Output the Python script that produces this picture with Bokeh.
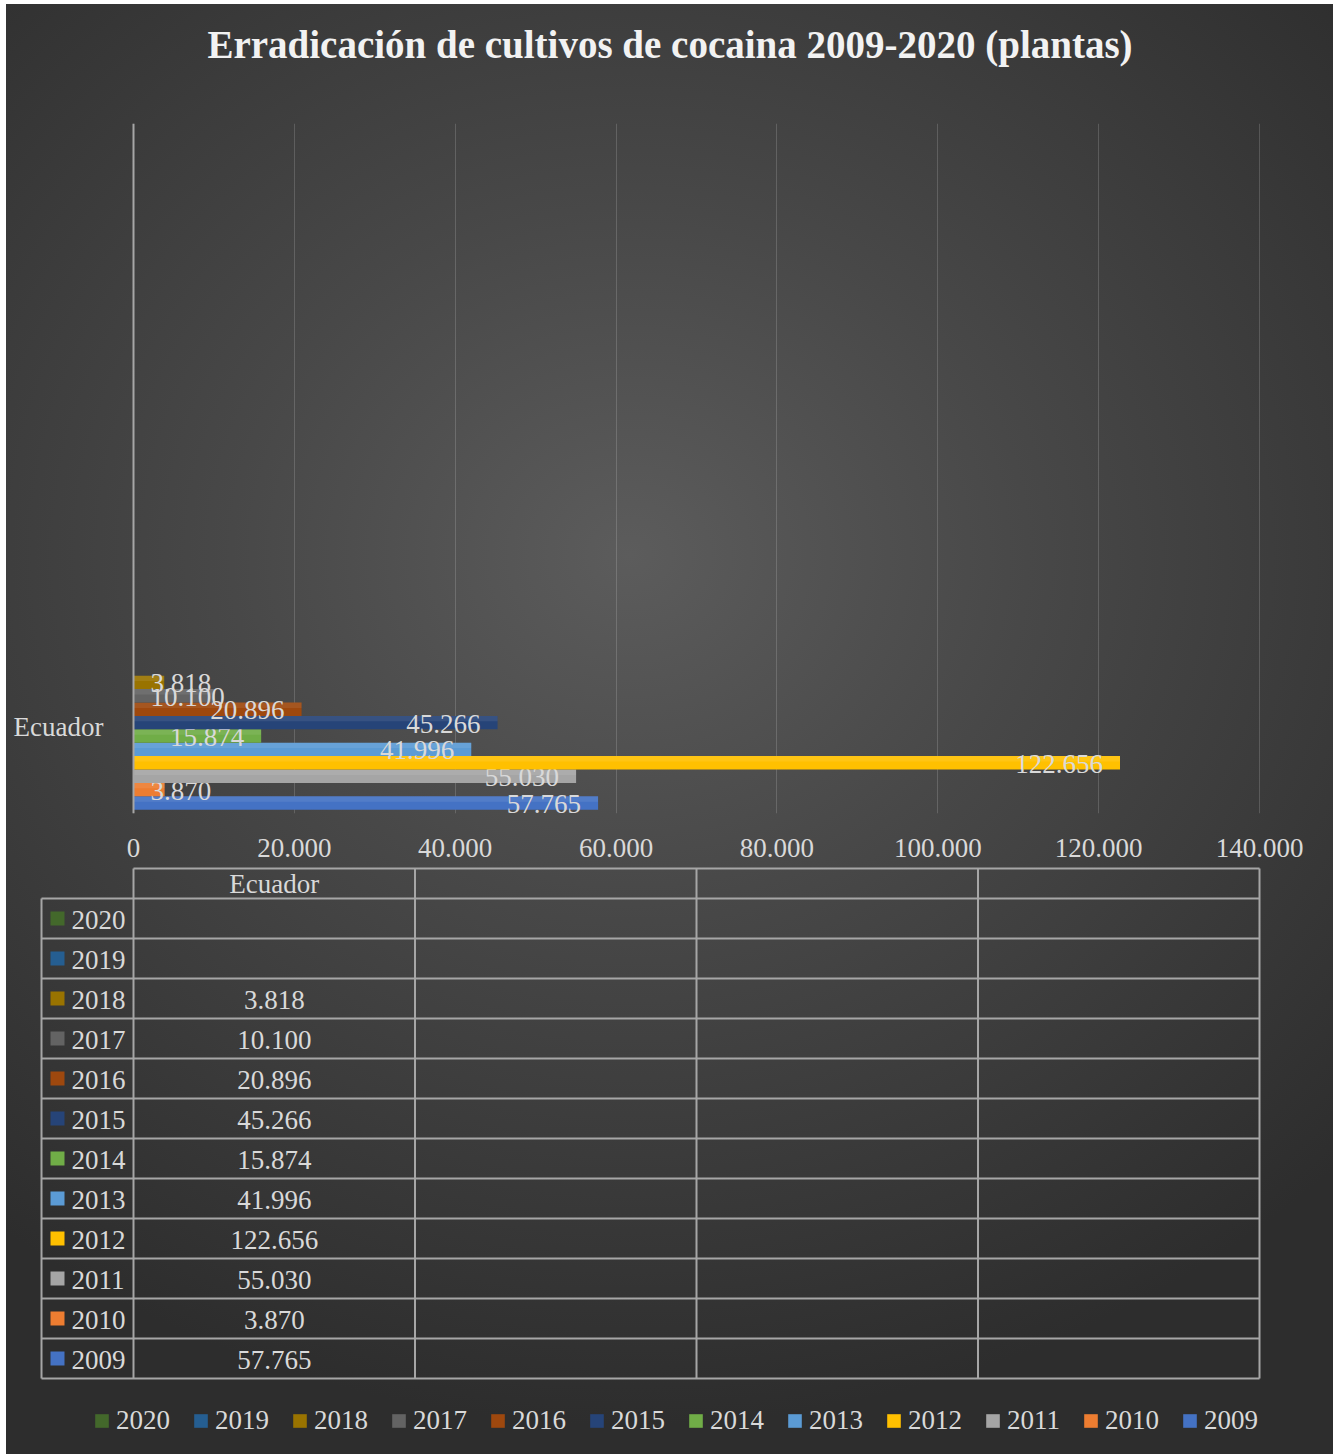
from bokeh.plotting import figure
from bokeh.models import Range1d, FactorRange, FixedTicker, Legend, LegendItem, ColumnDataSource, Title
from bokeh.transform import dodge
from bokeh.layouts import column
from bokeh.embed import file_html
from bokeh.resources import INLINE

# ---------------- data ----------------
categories = ["Ecuador", " ", "  ", "   "]
years = ["2009", "2010", "2011", "2012", "2013", "2014", "2015", "2016", "2017", "2018", "2019", "2020"]
ecuador_values = [57765, 3870, 55030, 122656, 41996, 15874, 45266, 20896, 10100, 3818, None, None]
colors = ["#4472C4", "#ED7D31", "#A5A5A5", "#FFC000", "#5B9BD5", "#70AD47",
          "#264478", "#9E480E", "#636363", "#997300", "#255E91", "#43682B"]
x_ticks = [0, 20000, 40000, 60000, 80000, 100000, 120000, 140000]
title_text = "Erradicación de cultivos de cocaina 2009-2020 (plantas)"


def fmt(v):
    return f"{v:,}".replace(",", ".")


FONT = "Liberation Serif"
TXT = "#d9d9d9"
FS = 27

# layout geometry (page pixels)
OX, OY = 6, 4            # top-left of the chart canvas
W = 1327                 # canvas width
PL, PR = 133, 1259       # plot area left / right
PT, PB = 123, 813        # plot area top / bottom
HA = 862                 # height of the chart part
HB = 1454 - OY - HA      # height of table + legend part

# ---------------- main bar chart ----------------
s = 140000 / (PR - PL)
p = figure(width=W, height=HA, output_backend="svg", toolbar_location=None, title=None,
           x_range=Range1d(-(PL - OX) * s, 140000 + (OX + W - PR) * s),
           y_range=FactorRange(factors=categories, range_padding=0),
           min_border_left=0, min_border_right=0,
           min_border_top=PT - OY, min_border_bottom=HA - (PB - OY))
p.background_fill_color = None
p.border_fill_color = None
p.outline_line_color = None

# spacer (closest to the plot area) then the real title above it
p.add_layout(Title(text=" ", text_font_size="20px", standoff=28), "above")
p.add_layout(Title(text=title_text, text_font=FONT, text_font_style="bold", text_font_size="39px",
                   text_color="#f2f2f2", align="center", vertical_align="top", standoff=8), "above")

n = len(years)
cat_px = (PB - PT) / len(categories)
bar_w = 13.4 / cat_px
shift = -0.012
for i, (yr, v, c) in enumerate(zip(years, ecuador_values, colors)):
    off = (i - (n - 1) / 2) * bar_w + shift
    src = ColumnDataSource(dict(y=["Ecuador"], right=[v if v is not None else float("nan")]))
    p.hbar(y=dodge("y", off, range=p.y_range), right="right", left=0, height=bar_w,
           source=src, fill_color=c, line_color=None)
    p.hbar(y=dodge("y", off + bar_w * 0.3, range=p.y_range), right="right", left=0,
           height=bar_w * 0.4, source=src, fill_color="white", fill_alpha=0.08, line_color=None)
    if v is None:
        continue
    tw = FS * (0.5 * len(str(v)) + 0.25)
    if v / s - 17 - tw < 17:
        lx, align, xo = 0, "left", 17
    else:
        lx, align, xo = v, "right", -17
    lsrc = ColumnDataSource(dict(y=["Ecuador"], x=[lx], t=[fmt(v)]))
    p.text(x="x", y=dodge("y", off, range=p.y_range), text="t", source=lsrc,
           text_align=align, text_baseline="middle", x_offset=xo, y_offset=1,
           text_font={"value": FONT}, text_font_size=f"{FS}px", text_color=TXT)

p.xaxis.ticker = FixedTicker(ticks=x_ticks)
p.xaxis.major_label_overrides = {t: fmt(t) for t in x_ticks}
p.xaxis.axis_line_color = None
p.xaxis.major_tick_line_color = None
p.xaxis.minor_tick_line_color = None
p.xaxis.major_label_text_font = FONT
p.xaxis.major_label_text_font_size = f"{FS}px"
p.xaxis.major_label_text_color = TXT
p.xaxis.major_label_standoff = 19

p.yaxis.fixed_location = 0
p.yaxis.axis_line_color = "#a6a6a6"
p.yaxis.axis_line_width = 2
p.yaxis.major_tick_line_color = None
p.yaxis.minor_tick_line_color = None
p.yaxis.major_label_text_font = FONT
p.yaxis.major_label_text_font_size = f"{FS}px"
p.yaxis.major_label_text_color = TXT
p.yaxis.major_label_standoff = 24

p.xgrid.grid_line_color = "#ffffff"
p.xgrid.grid_line_alpha = 0.16
p.ygrid.grid_line_color = None

# ---------------- data table + legend ----------------
col_px = (PR - PL) / len(categories)
TB = HA + OY  # page y of the top of this part
t = figure(width=W, height=HB, output_backend="svg", toolbar_location=None,
           x_range=Range1d((OX - PL) / col_px, len(categories) + (OX + W - PR) / col_px),
           y_range=Range1d(HB, 0), min_border=0,
           min_border_left=0, min_border_right=0, min_border_top=0, min_border_bottom=0)
t.background_fill_color = None
t.border_fill_color = None
t.outline_line_color = None
t.axis.visible = False
t.grid.visible = False

ncol = len(categories)
left_x = (41 - PL) / col_px
head_top, head_bot, row_h = 868 - TB, 898 - TB, 40
rows = list(reversed(range(n)))  # 2020 on top
bottom = head_bot + row_h * n

xs0, ys0, xs1, ys1 = [], [], [], []
xs0.append(0); xs1.append(ncol); ys0.append(head_top); ys1.append(head_top)
for k in range(n + 1):
    yk = head_bot + row_h * k
    xs0.append(left_x); xs1.append(ncol); ys0.append(yk); ys1.append(yk)
xs0.append(left_x); xs1.append(left_x); ys0.append(head_bot); ys1.append(bottom)
for c in range(ncol + 1):
    xs0.append(c); xs1.append(c); ys0.append(head_top); ys1.append(bottom)
t.segment(x0=xs0, y0=ys0, x1=xs1, y1=ys1, line_color="#a6a6a6", line_width=2)

t.text(x=[c + 0.5 for c in range(ncol)], y=[(head_top + head_bot) / 2] * ncol, text=categories,
       text_align="center", text_baseline="middle", text_font={"value": FONT},
       text_font_size=f"{FS}px", text_color=TXT)

row_y = [head_bot + row_h * k + row_h / 2 for k in range(n)]
ord_years = [years[i] for i in rows]
ord_colors = [colors[i] for i in rows]
ord_vals = [ecuador_values[i] for i in rows]

keys = t.rect(x=[(57 - PL) / col_px] * n, y=row_y, width=14, height=14,
              width_units="screen", height_units="screen",
              fill_color=ord_colors, line_color=None)
t.text(x=[(71 - PL) / col_px] * n, y=row_y, text=ord_years, text_align="left",
       text_baseline="middle", y_offset=1, text_font={"value": FONT},
       text_font_size=f"{FS}px", text_color=TXT)
t.text(x=[0.5] * n, y=row_y, text=[fmt(v) if v is not None else "" for v in ord_vals],
       text_align="center", text_baseline="middle", y_offset=1, text_font={"value": FONT},
       text_font_size=f"{FS}px", text_color=TXT)

legend = Legend(items=[LegendItem(label=yr, renderers=[keys], index=k) for k, yr in enumerate(ord_years)],
                orientation="horizontal", location=(87, 18),
                glyph_width=17, glyph_height=17, label_standoff=6, spacing=22,
                padding=0, margin=0, background_fill_alpha=0, border_line_color=None,
                label_text_font=FONT, label_text_font_size=f"{FS}px", label_text_color=TXT)
t.add_layout(legend)

layout = column(p, t, spacing=0,
                styles={"margin-left": f"{OX}px", "margin-top": f"{OY}px",
                        "background": "radial-gradient(ellipse 75% 60% at 47% 38%, #5c5c5c 0%, #484848 40%, #2d2d2d 100%)"})

open("out.html", "w").write(file_html(layout, INLINE))
